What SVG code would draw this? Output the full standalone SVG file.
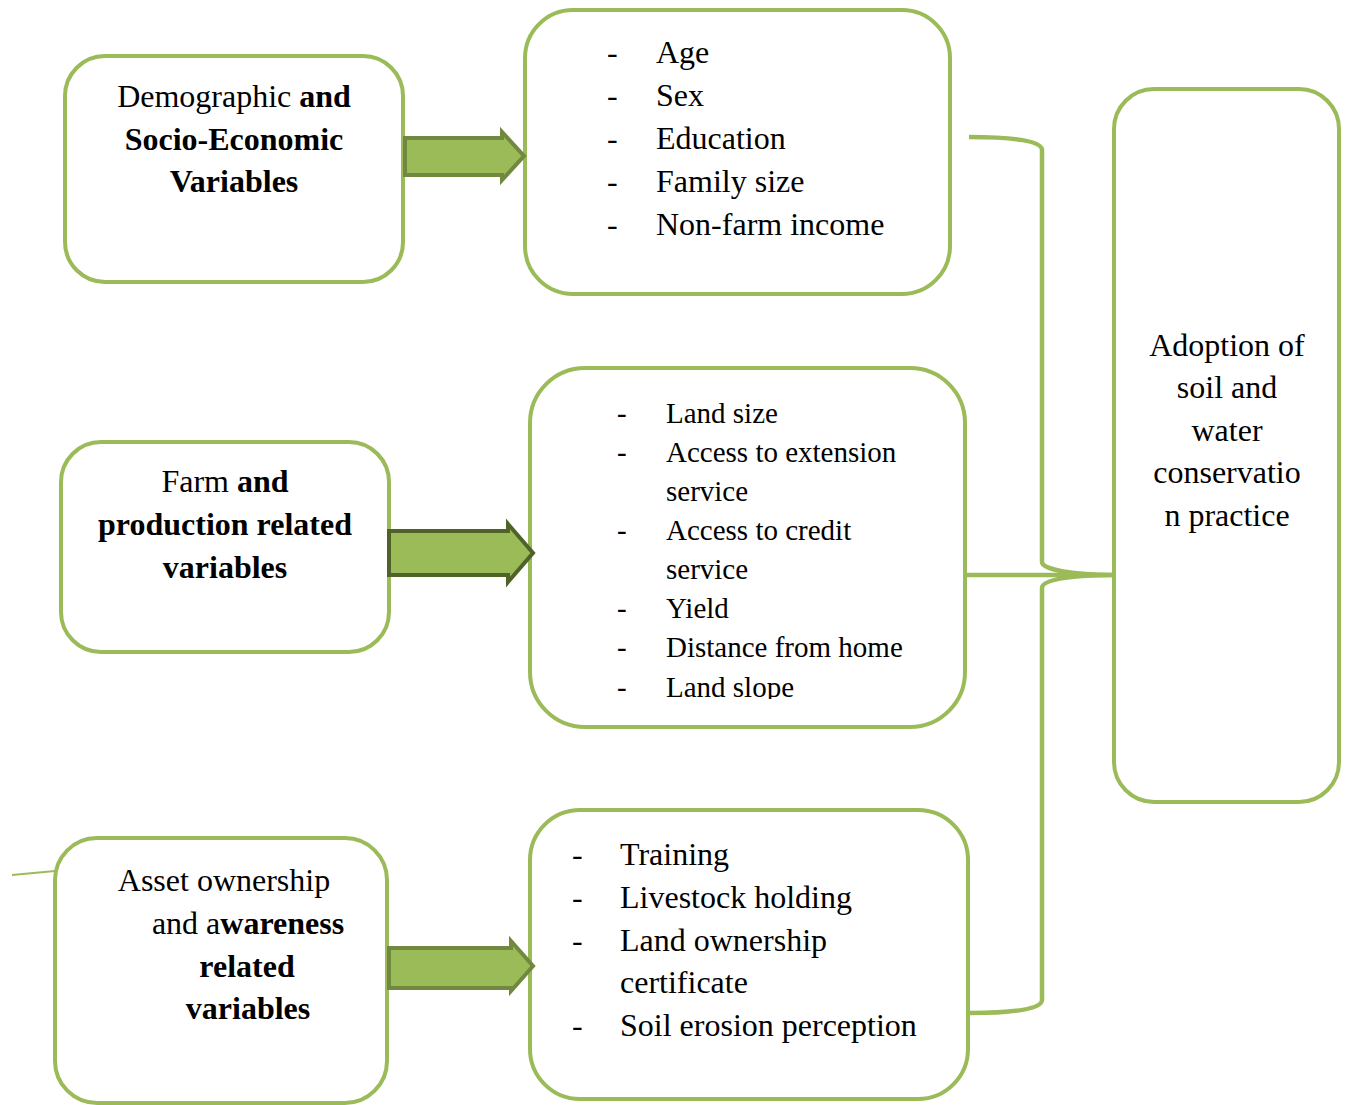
<svg xmlns="http://www.w3.org/2000/svg" width="1348" height="1105" viewBox="0 0 1348 1105">
<style>
.box{fill:#fff;stroke:#9BBB59;stroke-width:4}
.t{font-family:"Liberation Serif","Times New Roman",serif;font-size:32px;fill:#000}
.s{font-size:29px}
.c{text-anchor:middle}
.b{font-weight:bold}
.arr{fill:#9BBB59;stroke:#71893F;stroke-width:4;stroke-linejoin:miter}
.con{fill:none;stroke:#9BBB59;stroke-width:4.5}
</style>
<defs>
<clipPath id="clip4"><rect x="530" y="368" width="435" height="331"/></clipPath>
</defs>
<g id="node-demographic">
<rect class="box" x="65" y="56" width="338" height="226" rx="40"/>
<text class="t c" x="234" y="107">Demographic <tspan class="b">and</tspan></text>
<text class="t c b" x="234" y="150">Socio-Economic</text>
<text class="t c b" x="234" y="192">Variables</text>
</g>
<g id="node-demographic-list">
<rect class="box" x="525" y="10" width="425" height="284" rx="48"/>
<g class="t">
<text x="607" y="63">-</text><text x="656" y="63">Age</text>
<text x="607" y="106">-</text><text x="656" y="106">Sex</text>
<text x="607" y="149">-</text><text x="656" y="149">Education</text>
<text x="607" y="192">-</text><text x="656" y="192">Family size</text>
<text x="607" y="235">-</text><text x="656" y="235">Non-farm income</text>
</g>
</g>
<g id="node-farm">
<rect class="box" x="61" y="442" width="328" height="210" rx="40"/>
<text class="t c" x="225" y="492">Farm <tspan class="b">and</tspan></text>
<text class="t c b" x="225" y="535">production related</text>
<text class="t c b" x="225" y="578">variables</text>
</g>
<g id="node-farm-list">
<rect class="box" x="530" y="368" width="435" height="359" rx="55"/>
<g class="t s" clip-path="url(#clip4)">
<text x="617" y="423">-</text><text x="666" y="423">Land size</text>
<text x="617" y="462">-</text><text x="666" y="462">Access to extension</text>
<text x="666" y="501">service</text>
<text x="617" y="540">-</text><text x="666" y="540">Access to credit</text>
<text x="666" y="579">service</text>
<text x="617" y="618">-</text><text x="666" y="618">Yield</text>
<text x="617" y="657">-</text><text x="666" y="657">Distance from home</text>
<text x="617" y="697">-</text><text x="666" y="697">Land slope</text>
</g>
</g>
<g id="node-asset">
<rect class="box" x="55" y="838" width="332" height="265" rx="42"/>
<text class="t c" x="224" y="891">Asset ownership</text>
<text class="t c" x="248" y="934">and a<tspan class="b">wareness</tspan></text>
<text class="t c b" x="247" y="977">related</text>
<text class="t c b" x="248" y="1019">variables</text>
</g>
<g id="node-asset-list">
<rect class="box" x="530" y="810" width="438" height="289" rx="50"/>
<g class="t">
<text x="572" y="865">-</text><text x="620" y="865">Training</text>
<text x="572" y="908">-</text><text x="620" y="908">Livestock holding</text>
<text x="572" y="951">-</text><text x="620" y="951">Land ownership</text>
<text x="620" y="993">certificate</text>
<text x="572" y="1036">-</text><text x="620" y="1036">Soil erosion perception</text>
</g>
</g>
<g id="node-adoption">
<rect class="box" x="1114" y="89" width="225" height="713" rx="40"/>
<g class="t c">
<text x="1227" y="356">Adoption of</text>
<text x="1227" y="398">soil and</text>
<text x="1227" y="441">water</text>
<text x="1227" y="483">conservatio</text>
<text x="1227" y="526">n practice</text>
</g>
</g>
<g id="connectors">
<path class="con" d="M969 137 C1015 137 1042 141 1042 150 L1042 562 C1042 570 1075 575 1113 575 C1075 575 1042 579 1042 588 L1042 1000 C1042 1009 1015 1013 970 1013"/>
<line class="con" x1="967" y1="575" x2="1114" y2="575" stroke-width="3.5"/>
<line x1="12" y1="875" x2="55" y2="871" stroke="#9BBB59" stroke-width="2"/>
<polygon class="arr" points="405,138 502,138 502,132 524,156 502,180 502,175 405,175"/>
<polygon class="arr" style="stroke:#4F6228" points="389,531 508,531 508,524 533,553 508,582 508,575 389,575"/>
<polygon class="arr" points="389,948 511,948 511,941 533,966 511,991 511,988 389,988"/>
</g>
</svg>
